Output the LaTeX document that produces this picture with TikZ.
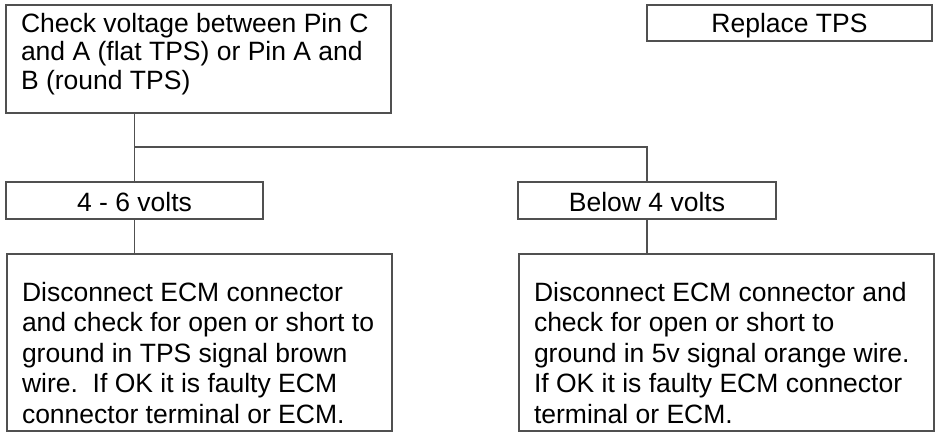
\documentclass[tikz,border=0pt]{standalone}
\usepackage{fontspec}
\newfontfamily\tf{Liberation Sans}
\definecolor{lc}{HTML}{505050}
\newcommand\boxtxt[5]{\parbox[c][#2pt][t]{#1pt}{\fontsize{26.5}{#5}\selectfont\raggedright\leftskip=15pt\vspace*{#3pt}\strut #4}}
\tikzset{
  box/.style={draw=lc, line width=1.5pt, inner sep=0pt, outer sep=0pt, text=black,
              font=\tf\fontsize{26.5}{28.7}\selectfont, align=center},
  conn/.style={draw=lc, line width=1.5pt}
}
\begin{document}
\begin{tikzpicture}[x=1pt,y=-1pt]
\useasboundingbox (0,0) rectangle (936,438);
\node[box, minimum width=385pt, minimum height=108pt] (top) at (198.5,59)
  {\boxtxt{385}{108}{7.2}{Check voltage between Pin C\\and A (flat TPS) or Pin A and\\B (round TPS)}{28.5}};
\node[box, minimum width=285pt, minimum height=36pt, text height=20pt, text depth=0pt] (rep) at (789.5,23) {Replace TPS};
\node[box, minimum width=257pt, minimum height=37pt, text height=22pt, text depth=0pt] (lmid) at (134.5,200.5) {4 - 6 volts};
\node[box, minimum width=258pt, minimum height=37pt, text height=22pt, text depth=0pt] (rmid) at (647,200.5) {Below 4 volts};
\node[box, minimum width=385pt, minimum height=177pt] (bl) at (199.5,342.5)
  {\boxtxt{385}{177}{26}{Disconnect ECM connector\\and check for open or short to\\ground in TPS signal brown\\wire.\ \ If OK it is faulty ECM\\connector terminal or ECM.}{30.5}};
\node[box, minimum width=415pt, minimum height=177pt] (br) at (726.5,342.5)
  {\boxtxt{415}{177}{26}{Disconnect ECM connector and\\check for open or short to\\ground in 5v signal orange wire.\\If OK it is faulty ECM connector\\terminal or ECM.}{30.5}};
\coordinate (j) at (134.5,147);
\draw[conn] (lmid.north |- top.south) -- (lmid.north);
\draw[conn] (j) -| (rmid.north);
\draw[conn] (lmid.south) -- (lmid.south |- bl.north);
\draw[conn] (rmid.south) -- (rmid.south |- br.north);
\end{tikzpicture}
\end{document}
